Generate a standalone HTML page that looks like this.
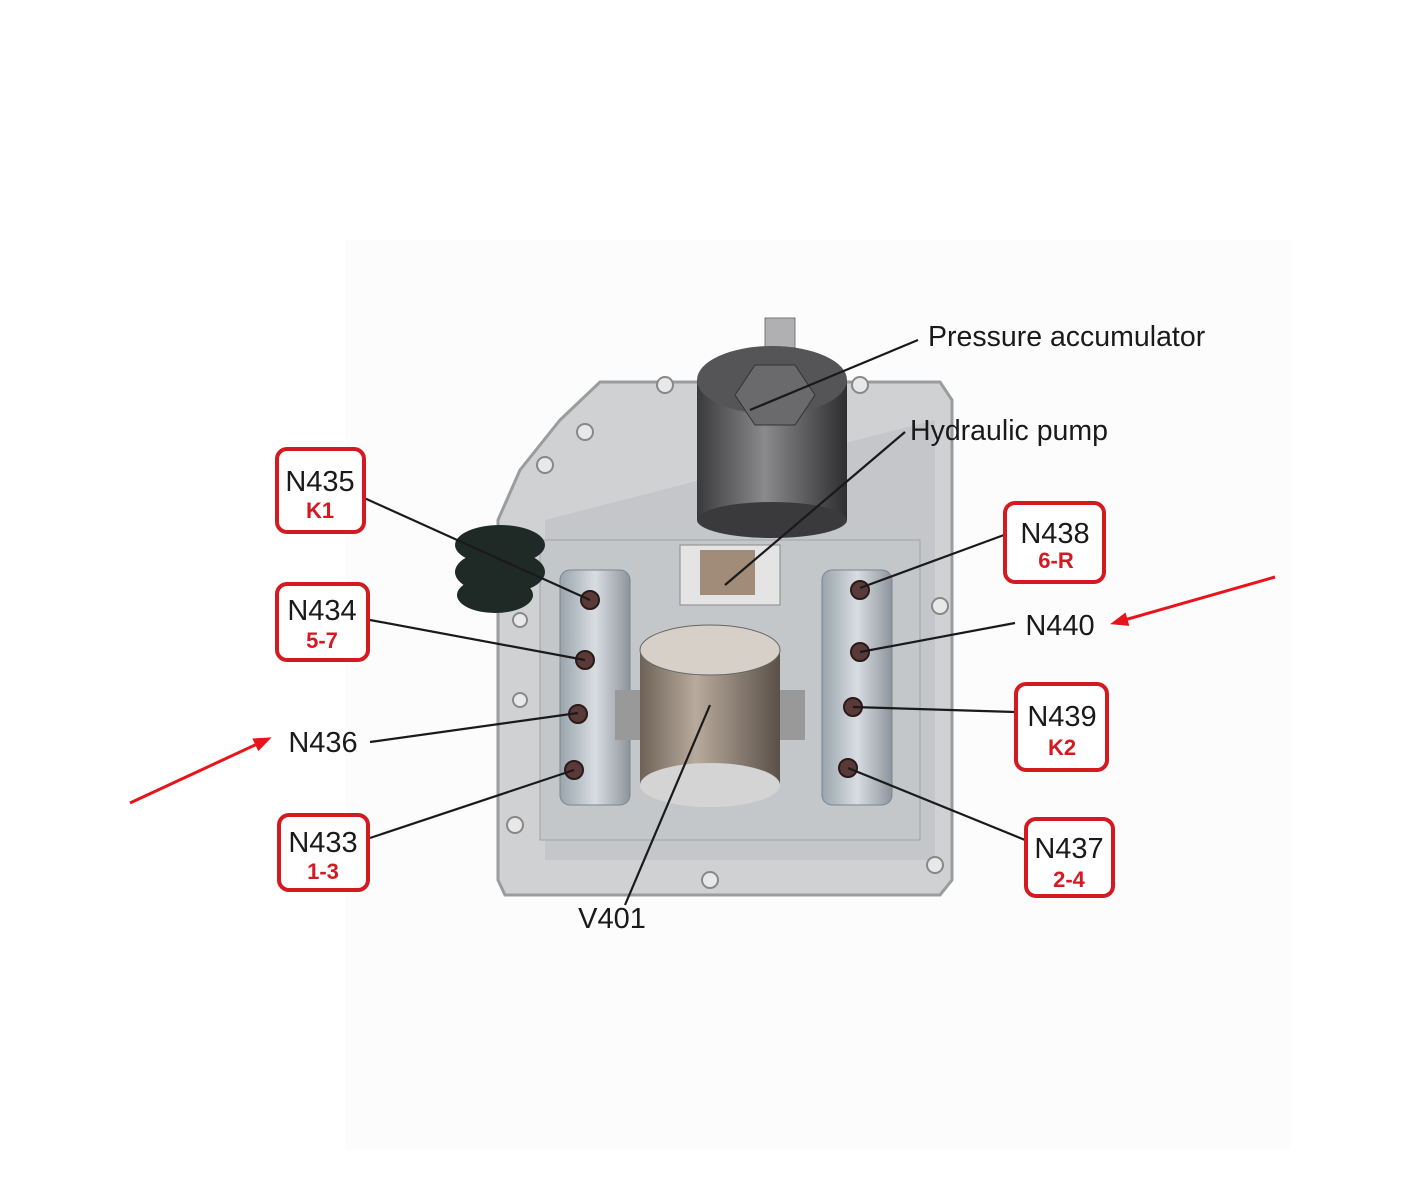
<!DOCTYPE html>
<html><head><meta charset="utf-8"><style>
html,body{margin:0;padding:0;background:#fff;}
svg{display:block}
text{font-family:"Liberation Sans",sans-serif;}
</style></head><body>
<svg width="1416" height="1200" viewBox="0 0 1416 1200" xmlns="http://www.w3.org/2000/svg">
<defs>
<linearGradient id="acc" x1="0" x2="1"><stop offset="0" stop-color="#3a3a3c"/><stop offset="0.45" stop-color="#8a8a8c"/><stop offset="1" stop-color="#2e2e30"/></linearGradient>
<linearGradient id="mot" x1="0" x2="1"><stop offset="0" stop-color="#6e6258"/><stop offset="0.4" stop-color="#b8aa9c"/><stop offset="1" stop-color="#5a5048"/></linearGradient>
<linearGradient id="sol" x1="0" x2="1"><stop offset="0" stop-color="#9aa4ac"/><stop offset="0.5" stop-color="#d8dde2"/><stop offset="1" stop-color="#8d959c"/></linearGradient>
<marker id="ah" markerWidth="18" markerHeight="14" refX="14" refY="7" orient="auto" markerUnits="userSpaceOnUse"><path d="M0,0 L18,7 L0,14 z" fill="#e8141c"/></marker>
</defs>
<rect x="345" y="240" width="945" height="910" fill="#fcfcfc"/>
<path d="M600,382 L940,382 L952,400 L952,880 L940,895 L505,895 L498,880 L498,520 L520,470 L560,420 Z" fill="#cfd1d3" stroke="#9a9c9e" stroke-width="3"/>
<path d="M545,520 L935,420 L935,860 L545,860 Z" fill="#b9bcbf" opacity="0.5"/>
<rect x="540" y="540" width="380" height="300" fill="#c4c7ca" stroke="#a0a3a6"/>
<g fill="#1f2a26">
<ellipse cx="500" cy="545" rx="45" ry="20"/><ellipse cx="500" cy="572" rx="45" ry="22"/><ellipse cx="495" cy="595" rx="38" ry="18"/>
</g>
<g fill="#e8e8e8" stroke="#888" stroke-width="2">
<circle cx="545" cy="465" r="8"/><circle cx="585" cy="432" r="8"/><circle cx="665" cy="385" r="8"/><circle cx="860" cy="385" r="8"/><circle cx="940" cy="606" r="8"/><circle cx="515" cy="825" r="8"/><circle cx="710" cy="880" r="8"/><circle cx="935" cy="865" r="8"/><circle cx="520" cy="620" r="7"/><circle cx="520" cy="700" r="7"/>
</g>
<rect x="765" y="318" width="30" height="30" fill="#b0b0b2" stroke="#777"/>
<rect x="697" y="380" width="150" height="140" fill="url(#acc)"/>
<ellipse cx="772" cy="520" rx="75" ry="18" fill="#3a3a3c"/>
<ellipse cx="772" cy="380" rx="75" ry="34" fill="#555558"/>
<path d="M735,395 L755,365 L795,365 L815,395 L795,425 L755,425 Z" fill="#6a6a6d" stroke="#333"/>
<rect x="680" y="545" width="100" height="60" fill="#e4e4e4" stroke="#888"/>
<rect x="700" y="550" width="55" height="45" fill="#a08c78"/>
<rect x="560" y="570" width="70" height="235" rx="10" fill="url(#sol)" stroke="#7d858c"/>
<rect x="822" y="570" width="70" height="235" rx="10" fill="url(#sol)" stroke="#7d858c"/>
<g fill="#5a3a38" stroke="#2a1a18" stroke-width="2">
<circle cx="590" cy="600" r="9"/><circle cx="585" cy="660" r="9"/><circle cx="578" cy="714" r="9"/><circle cx="574" cy="770" r="9"/>
<circle cx="860" cy="590" r="9"/><circle cx="860" cy="652" r="9"/><circle cx="853" cy="707" r="9"/><circle cx="848" cy="768" r="9"/>
</g>
<rect x="640" y="650" width="140" height="135" fill="url(#mot)"/>
<ellipse cx="710" cy="650" rx="70" ry="25" fill="#d6d0c8" stroke="#666"/>
<ellipse cx="710" cy="785" rx="70" ry="22" fill="#d4d4d4"/>
<rect x="615" y="690" width="25" height="50" fill="#999"/><rect x="780" y="690" width="25" height="50" fill="#999"/>
<g stroke="#1a1a1a" stroke-width="2.2" fill="none">
<line x1="362" y1="497" x2="590" y2="600"/>
<line x1="370" y1="620" x2="585" y2="660"/>
<line x1="370" y1="742" x2="578" y2="713"/>
<line x1="370" y1="838" x2="574" y2="770"/>
<line x1="918" y1="340" x2="750" y2="410"/>
<line x1="905" y1="432" x2="725" y2="585"/>
<line x1="1004" y1="535" x2="860" y2="588"/>
<line x1="1015" y1="623" x2="860" y2="652"/>
<line x1="1015" y1="712" x2="853" y2="707"/>
<line x1="1025" y1="840" x2="848" y2="768"/>
<line x1="625" y1="905" x2="710" y2="705"/>
</g>
<g stroke="#e8141c" stroke-width="3" marker-end="url(#ah)">
<line x1="1275" y1="577" x2="1114" y2="623"/>
<line x1="130" y1="803" x2="268" y2="739"/>
</g>
<g fill="#fff" stroke="#d41a20" stroke-width="4">
<rect x="277" y="449" width="87" height="83" rx="10"/>
<rect x="277" y="584" width="91" height="76" rx="10"/>
<rect x="279" y="815" width="89" height="75" rx="10"/>
<rect x="1005" y="503" width="99" height="79" rx="10"/>
<rect x="1016" y="684" width="91" height="86" rx="10"/>
<rect x="1026" y="819" width="87" height="77" rx="10"/>
</g>
<g font-size="29" fill="#1a1a1a" text-anchor="middle">
<text x="320" y="491">N435</text>
<text x="322" y="620">N434</text>
<text x="323" y="852">N433</text>
<text x="1055" y="543">N438</text>
<text x="1062" y="726">N439</text>
<text x="1069" y="858">N437</text>
<text x="323" y="752">N436</text>
<text x="1060" y="635">N440</text>
<text x="612" y="928">V401</text>
</g>
<g font-size="22" font-weight="bold" fill="#d41a20" text-anchor="middle">
<text x="320" y="518">K1</text>
<text x="322" y="648">5-7</text>
<text x="323" y="879">1-3</text>
<text x="1056" y="568">6-R</text>
<text x="1062" y="755">K2</text>
<text x="1069" y="887">2-4</text>
</g>
<g font-size="28.5" fill="#1a1a1a">
<text x="928" y="346">Pressure accumulator</text>
<text x="910" y="440">Hydraulic pump</text>
</g>
</svg>
</body></html>
